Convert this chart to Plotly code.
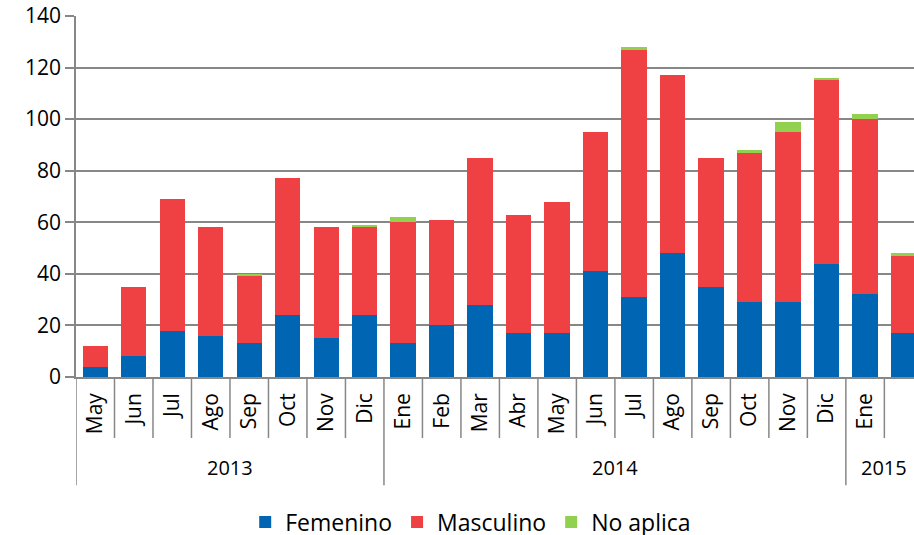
import plotly.graph_objects as go

months = ["May", "Jun", "Jul", "Ago", "Sep", "Oct", "Nov", "Dic",
          "Ene", "Feb", "Mar", "Abr", "May", "Jun", "Jul", "Ago", "Sep", "Oct", "Nov", "Dic",
          "Ene", "Feb"]
years = ["2013"] * 8 + ["2014"] * 12 + ["2015"] * 2
femenino = [4, 8, 18, 16, 13, 24, 15, 24,
            13, 20, 28, 17, 17, 41, 31, 48, 35, 29, 29, 44,
            32, 17]
masculino = [8, 27, 51, 42, 26, 53, 43, 34,
             47, 41, 57, 46, 51, 54, 96, 69, 50, 58, 66, 71,
             68, 30]
no_aplica = [None, None, None, None, 1, None, None, 1,
             2, None, None, None, None, None, 1, None, None, 1, 4, 1,
             2, 1]
y_ticks = [0, 20, 40, 60, 80, 100, 120, 140]

FONT = "Open Sans, sans-serif"
GRID = "#878787"
n = len(months)
idx = list(range(n))

fig = go.Figure()
fig.add_bar(x=idx, y=femenino, name="Femenino", marker=dict(color="#0066B3", line=dict(width=0)))
fig.add_bar(x=idx, y=masculino, name="Masculino", marker=dict(color="#EF4044", line=dict(width=0)))
fig.add_bar(x=idx, y=no_aplica, name="No aplica", marker=dict(color="#92D050", line=dict(width=0)))

# category boundaries (month separators) and year separators below the axis
shapes = []
for i in range(n + 1):
    b = i - 0.5
    is_year_break = (i == 0) or (i == n) or (years[i] != years[i - 1])
    shapes.append(dict(type="line", xref="x", yref="paper", x0=b, x1=b,
                       y0=0, y1=-0.30 if is_year_break else -0.169,
                       line=dict(color=GRID, width=1.5), layer="above"))

# year group labels
annotations = []
seen = []
for yv in years:
    if yv not in seen:
        seen.append(yv)
for yv in seen:
    pos = [i for i in idx if years[i] == yv]
    annotations.append(dict(x=sum(pos) / len(pos), y=-0.252, xref="x", yref="paper",
                            text=yv, showarrow=False,
                            font=dict(family=FONT, size=20, color="#000000"),
                            xanchor="center", yanchor="middle"))

fig.update_layout(
    barmode="stack",
    bargap=0.34,
    width=914, height=560,
    margin=dict(l=76, r=0, t=16, b=183),
    paper_bgcolor="white", plot_bgcolor="white",
    font=dict(family=FONT, size=21, color="#000000"),
    shapes=shapes,
    annotations=annotations,
    legend=dict(orientation="h", x=0.471, xanchor="center", y=-0.402, yanchor="middle",
                font=dict(family=FONT, size=23), traceorder="normal"),
    xaxis=dict(
        range=[-0.5, 21.27],
        tickmode="array", tickvals=idx, ticktext=months,
        tickangle=-90, ticks="", showgrid=False,
        showline=True, linecolor=GRID, linewidth=1.5,
        tickfont=dict(family=FONT, size=21, color="#000000"),
        ticklabelstandoff=6,
        zeroline=False, automargin=False,
    ),
    yaxis=dict(
        range=[0, 140], tickvals=y_ticks,
        showgrid=True, gridcolor=GRID, gridwidth=1.5,
        showline=True, linecolor=GRID, linewidth=1.5,
        ticks="outside", ticklen=9, tickcolor=GRID, tickwidth=1.5,
        tickfont=dict(family=FONT, size=21, color="#000000"),
        ticklabeloverflow="allow",
        zeroline=False, automargin=False,
    ),
)

fig.write_html("out.html", config={"displayModeBar": False},
               post_script="document.body.style.margin='0';document.body.style.overflow='hidden';")
